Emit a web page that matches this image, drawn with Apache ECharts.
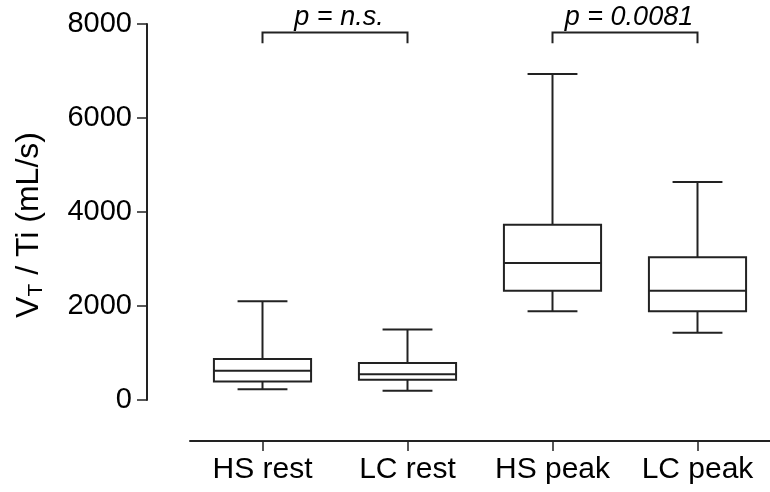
<!DOCTYPE html>
<html>
<head>
<meta charset="utf-8">
<script src="https://cdn.jsdelivr.net/npm/echarts@6/dist/echarts.min.js"></script>
<style>
  html, body { margin: 0; padding: 0; background: #fff; }
  #chart { width: 770px; height: 492px; }
</style>
</head>
<body>
<div id="chart"></div>
<script>
// Groups and five-number summaries (mL/s)
const categories = ['HS rest', 'LC rest', 'HS peak', 'LC peak'];
const whiskerLow  = [230, 195, 1890, 1430];
const quartile1   = [395, 430, 2325, 1890];
const medians     = [620, 550, 2915, 2325];
const quartile3   = [875, 785, 3730, 3035];
const whiskerHigh = [2100, 1500, 6935, 4640];

// Y axis ticks
const yTicks = [0, 2000, 4000, 6000, 8000];

// Pairwise comparisons drawn as brackets above the boxes
const compareFrom = [0, 2];
const compareTo = [1, 3];
const compareLabels = ['p = n.s.', 'p = 0.0081'];
const bracketTop = 7820;
const bracketFoot = 7590;

const FONT = '"Liberation Sans", Arial, Helvetica, sans-serif';
const INK = '#222';

const boxData = categories.map((c, i) =>
  [i, whiskerLow[i], quartile1[i], medians[i], quartile3[i], whiskerHigh[i]]);
const bracketData = compareFrom.map((f, i) => [f, compareTo[i], bracketTop, bracketFoot]);

function renderBox(params, api) {
  const c = api.value(0);
  const lo = api.coord([c, api.value(1)]);
  const q1 = api.coord([c, api.value(2)]);
  const md = api.coord([c, api.value(3)]);
  const q3 = api.coord([c, api.value(4)]);
  const hi = api.coord([c, api.value(5)]);
  const band = api.size([1, 0])[0];
  const hb = band * 0.335;
  const hc = band * 0.172;
  const x = lo[0];
  const st = { stroke: INK, lineWidth: 2, fill: null };
  return {
    type: 'group',
    children: [
      { type: 'line', shape: { x1: x, y1: q3[1], x2: x, y2: hi[1] }, style: st },
      { type: 'line', shape: { x1: x - hc, y1: hi[1], x2: x + hc, y2: hi[1] }, style: st },
      { type: 'line', shape: { x1: x, y1: q1[1], x2: x, y2: lo[1] }, style: st },
      { type: 'line', shape: { x1: x - hc, y1: lo[1], x2: x + hc, y2: lo[1] }, style: st },
      { type: 'rect', shape: { x: x - hb, y: q3[1], width: 2 * hb, height: q1[1] - q3[1] },
        style: { stroke: INK, lineWidth: 2, fill: '#fff' } },
      { type: 'line', shape: { x1: x - hb, y1: md[1], x2: x + hb, y2: md[1] }, style: st }
    ]
  };
}

function renderBracket(params, api) {
  const a = api.coord([api.value(0), api.value(2)]);
  const b = api.coord([api.value(1), api.value(2)]);
  const foot = api.coord([api.value(0), api.value(3)])[1];
  return {
    type: 'group',
    children: [
      { type: 'polyline',
        shape: { points: [[a[0], foot], [a[0], a[1]], [b[0], b[1]], [b[0], foot]] },
        style: { stroke: INK, lineWidth: 2, fill: null } },
      { type: 'text',
        x: (a[0] + b[0]) / 2 + 4, y: a[1] - 1,
        style: {
          text: compareLabels[params.dataIndex],
          fontFamily: FONT, fontSize: 27, fontStyle: 'italic',
          fill: '#000', align: 'center', verticalAlign: 'bottom'
        } }
    ]
  };
}

const chart = echarts.init(document.getElementById('chart'), null, { renderer: 'canvas' });
chart.setOption({
  animation: false,
  backgroundColor: '#fff',
  grid: { left: 190, right: -10, top: 24, bottom: 92, containLabel: false },
  xAxis: {
    type: 'category',
    data: categories,
    offset: 41,
    axisLine: { onZero: false, lineStyle: { color: INK, width: 2 } },
    axisTick: { show: true, interval: 0, alignWithLabel: true, length: 10, lineStyle: { color: INK, width: 1.5 } },
    axisLabel: {
      color: '#000', fontSize: 30, fontFamily: FONT, margin: 14,
      interval: 0, hideOverlap: false
    },
    splitLine: { show: false }
  },
  yAxis: {
    type: 'value',
    min: yTicks[0],
    max: yTicks[yTicks.length - 1],
    interval: yTicks[1] - yTicks[0],
    offset: 43,
    name: '{v|V}{sub|T}{v| / Ti (mL/s)}',
    nameLocation: 'middle',
    nameGap: 100,
    nameTextStyle: {
      padding: [0, 26, 0, 0],
      rich: {
        v: { fontSize: 32, fontFamily: FONT, color: '#000', lineHeight: 36 },
        sub: { fontSize: 21, fontFamily: FONT, color: '#000', lineHeight: 21, verticalAlign: 'bottom' }
      }
    },
    axisLine: { show: true, lineStyle: { color: INK, width: 2 } },
    axisTick: { show: true, length: 10, lineStyle: { color: INK, width: 1.5 } },
    axisLabel: {
      color: '#000', fontSize: 29, fontFamily: FONT, margin: 15,
      formatter: (v) => String(v)
    },
    splitLine: { show: false }
  },
  series: [
    {
      type: 'custom',
      name: 'box',
      renderItem: renderBox,
      data: boxData,
      encode: { x: 0, y: [1, 2, 3, 4, 5] },
      clip: false
    },
    {
      type: 'custom',
      name: 'comparison',
      renderItem: renderBracket,
      data: bracketData,
      encode: { x: [0, 1], y: [2, 3] },
      clip: false
    }
  ]
});
</script>
</body>
</html>
